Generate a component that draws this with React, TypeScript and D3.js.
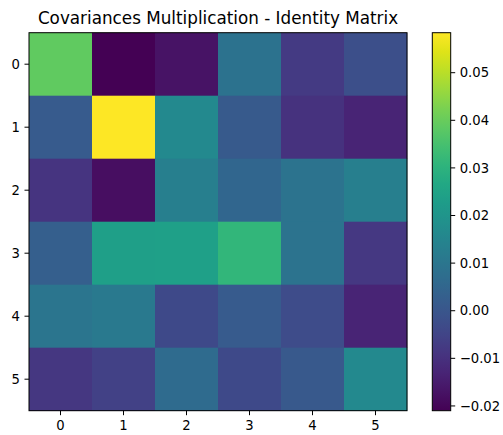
import React from "react";
import * as d3 from "d3";

const rowLabels = ["0", "1", "2", "3", "4", "5"];
const colLabels = ["0", "1", "2", "3", "4", "5"];
const matrix: number[][] = [
  [0.039, -0.021, -0.017, 0.009, -0.0075, -0.002],
  [0.0015, 0.0584, 0.0165, 0.0012, -0.0098, -0.013],
  [-0.009, -0.018, 0.013, 0.005, 0.0092, 0.013],
  [0.0028, 0.0235, 0.0238, 0.0314, 0.0092, -0.008],
  [0.0098, 0.011, -0.0035, 0.0015, -0.003, -0.013],
  [-0.0085, -0.0055, 0.0065, -0.0035, 0.001, 0.0165],
];
const colorbarTicks = [-0.02, -0.01, 0.0, 0.01, 0.02, 0.03, 0.04, 0.05];
const title = "Covariances Multiplication - Identity Matrix";

const W = 503;
const H = 435;
const ax = { left: 29, top: 32.7, size: 378 };
const cb = { left: 432.3, width: 18.4 };
const font = "DejaVu Sans, sans-serif";

export default function App() {
  const vmin = d3.min(matrix.flat())!;
  const vmax = d3.max(matrix.flat())!;
  const color = d3.scaleSequential(d3.interpolateViridis).domain([vmin, vmax]);
  const x = d3.scaleBand().domain(colLabels).range([ax.left, ax.left + ax.size]);
  const y = d3.scaleBand().domain(rowLabels).range([ax.top, ax.top + ax.size]);
  const cy = d3.scaleLinear().domain([vmin, vmax]).range([ax.top + ax.size, ax.top]);
  const stops = d3.range(0, 1.0001, 0.05);
  const tickLen = 4.5;
  const fs = 13.2;
  return (
    <svg width={W} height={H} style={{ position: "absolute", left: 0, top: 0, background: "#fff" }}>
      <defs>
        <linearGradient id="cbgrad" x1="0" y1="1" x2="0" y2="0">
          {stops.map((s) => (
            <stop key={s} offset={s} stopColor={d3.interpolateViridis(s)} />
          ))}
        </linearGradient>
      </defs>
      <text x={ax.left + ax.size / 2} y={24} textAnchor="middle" fontFamily={font} fontSize={16.8} fill="#000">
        {title}
      </text>
      {matrix.map((row, i) =>
        row.map((v, j) => (
          <rect
            key={`${i}-${j}`}
            x={x(colLabels[j])}
            y={y(rowLabels[i])}
            width={x.bandwidth() + 0.3}
            height={y.bandwidth() + 0.3}
            fill={color(v)}
          />
        ))
      )}
      <rect x={ax.left} y={ax.top} width={ax.size} height={ax.size} fill="none" stroke="#000" strokeWidth={1} />
      {rowLabels.map((r) => {
        const yy = y(r)! + y.bandwidth() / 2;
        return (
          <g key={"y" + r}>
            <line x1={ax.left - tickLen} x2={ax.left} y1={yy} y2={yy} stroke="#000" strokeWidth={1} />
            <text x={ax.left - tickLen - 4.5} y={yy} dy="0.36em" textAnchor="end" fontFamily={font} fontSize={fs} fill="#000">
              {r}
            </text>
          </g>
        );
      })}
      {colLabels.map((c) => {
        const xx = x(c)! + x.bandwidth() / 2;
        const yb = ax.top + ax.size;
        return (
          <g key={"x" + c}>
            <line x1={xx} x2={xx} y1={yb} y2={yb + tickLen} stroke="#000" strokeWidth={1} />
            <text x={xx} y={yb + tickLen + 4.5} dy="0.76em" textAnchor="middle" fontFamily={font} fontSize={fs} fill="#000">
              {c}
            </text>
          </g>
        );
      })}
      <rect x={cb.left} y={ax.top} width={cb.width} height={ax.size} fill="url(#cbgrad)" />
      <rect x={cb.left} y={ax.top} width={cb.width} height={ax.size} fill="none" stroke="#000" strokeWidth={1} />
      {colorbarTicks.map((t) => {
        const yy = cy(t);
        const xr = cb.left + cb.width;
        const label = d3.format(".2f")(t).replace("-", "\u2212");
        return (
          <g key={"c" + t}>
            <line x1={xr} x2={xr + tickLen} y1={yy} y2={yy} stroke="#000" strokeWidth={1} />
            <text x={xr + tickLen + 4.5} y={yy} dy="0.36em" textAnchor="start" fontFamily={font} fontSize={fs} fill="#000">
              {label}
            </text>
          </g>
        );
      })}
    </svg>
  );
}
